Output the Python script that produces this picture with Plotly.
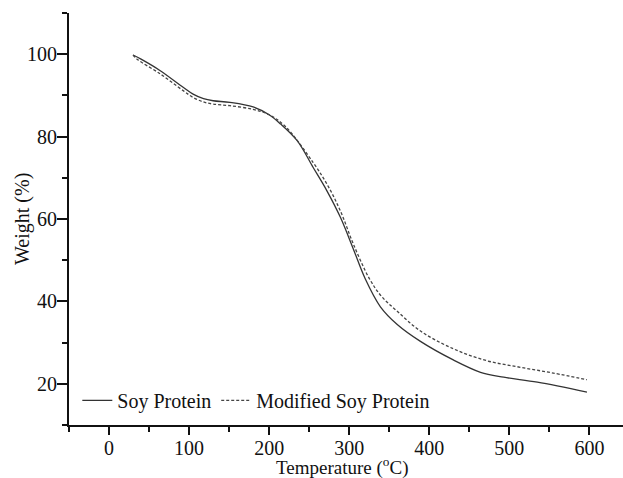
import plotly.graph_objects as go

# Soy Protein (solid)
temp_soy = [30, 40, 64, 93, 105, 118, 130, 151, 180, 200, 214, 235, 255, 272, 289, 305, 320, 339, 360, 389, 430, 464, 493, 535, 597]
weight_soy = [99.8, 98.8, 96.0, 91.9, 90.3, 89.2, 88.7, 88.3, 87.2, 85.3, 83.1, 79.0, 72.5, 66.9, 60.4, 52.8, 45.5, 38.7, 34.4, 30.3, 25.8, 22.8, 21.6, 20.4, 18.0]

# Modified Soy Protein (dashed)
temp_mod = [30, 35, 64, 93, 105, 118, 130, 151, 180, 200, 220, 255, 275, 290, 305, 325, 340, 360, 389, 430, 472, 514, 555, 597]
weight_mod = [99.8, 98.8, 95.2, 91.1, 89.5, 88.4, 87.9, 87.5, 86.6, 85.3, 82.5, 73.7, 67.5, 61.5, 54.0, 45.6, 41.3, 37.6, 32.8, 28.5, 25.6, 24.0, 22.6, 21.0]

x_ticks = [0, 100, 200, 300, 400, 500, 600]
y_ticks = [20, 40, 60, 80, 100]

FONT = "Liberation Serif"
INK = "#111111"

fig = go.Figure()
fig.add_trace(go.Scatter(x=temp_soy, y=weight_soy, mode="lines", name="Soy Protein",
                         line=dict(color="#333333", width=1.3, shape="spline", smoothing=1.0)))
fig.add_trace(go.Scatter(x=temp_mod, y=weight_mod, mode="lines", name="Modified Soy Protein",
                         line=dict(color="#444444", width=1.3, dash="3px,2px", shape="spline", smoothing=1.0)))

fig.update_layout(
    width=623, height=478,
    margin=dict(l=69, r=0, t=13, b=53),
    paper_bgcolor="white", plot_bgcolor="white",
    font=dict(family=FONT, size=20, color=INK),
    showlegend=True,
    legend=dict(orientation="h", x=0.015, y=0.06, xanchor="left", yanchor="middle",
                bgcolor="rgba(0,0,0,0)", font=dict(family=FONT, size=20, color=INK),
                itemwidth=30, tracegroupgap=0),
    xaxis=dict(range=[-50, 642], tickvals=x_ticks, ticks="outside", ticklen=8, tickwidth=2,
               showline=True, linewidth=2, linecolor=INK, tickcolor=INK,
               showgrid=False, zeroline=False, ticklabelstandoff=-4,
               minor=dict(dtick=50, tick0=0, ticks="outside", ticklen=5, tickwidth=2, tickcolor=INK),
               tickfont=dict(family=FONT, size=20, color=INK)),
    yaxis=dict(range=[10, 110], tickvals=y_ticks, ticks="outside", ticklen=10, tickwidth=2,
               showline=True, linewidth=2, linecolor=INK, tickcolor=INK,
               showgrid=False, zeroline=False, ticklabelstandoff=-4,
               minor=dict(dtick=10, tick0=0, ticks="outside", ticklen=5, tickwidth=2, tickcolor=INK),
               tickfont=dict(family=FONT, size=20, color=INK)),
    annotations=[
        dict(text="Temperature (<sup>o</sup>C)", xref="paper", yref="paper",
             x=0.493, y=-0.1, xanchor="center", yanchor="middle", showarrow=False,
             font=dict(family=FONT, size=19, color=INK)),
        dict(text="Weight (%)", xref="paper", yref="paper", textangle=-90,
             x=-0.085, y=0.5, xanchor="center", yanchor="middle", showarrow=False,
             font=dict(family=FONT, size=20, color=INK)),
    ],
)

fig.write_html("out.html")
